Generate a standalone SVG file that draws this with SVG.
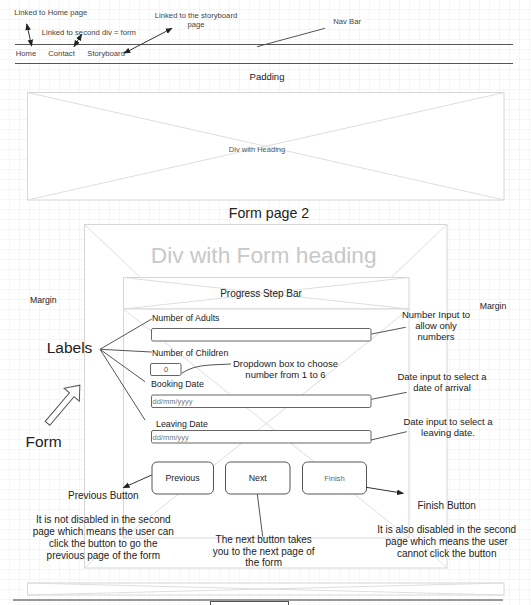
<svg xmlns="http://www.w3.org/2000/svg" width="531" height="605" viewBox="0 0 531 605">
  <defs>
    <pattern id="grid" width="10" height="10" patternUnits="userSpaceOnUse">
      <path d="M10 0V10M0 10H10" fill="none" stroke="#ededed" stroke-width="1"/>
    </pattern>
    <marker id="ah" viewBox="0 0 10 10" refX="9" refY="5" markerWidth="7" markerHeight="7" markerUnits="userSpaceOnUse" orient="auto-start-reverse">
      <path d="M0 1L10 5L0 9Z" fill="#222"/>
    </marker>
  </defs>
  <style>
    text { font-family: "Liberation Sans", Arial, sans-serif; fill: #222; }
    .note { font-size: 7.7px; fill: #444; }
    .ann { font-size: 9.5px; }
    .para { font-size: 10px; }
    .lbl { font-size: 8.8px; }
    .ph { font-size: 7.5px; fill: #777; }
    .mid { text-anchor: middle; }
    .box { fill: #fff; stroke: #d6d6d6; stroke-width: 1; }
    .x { stroke: #dedede; stroke-width: 1; fill: none; }
    .inp { fill: #fff; stroke: #666; stroke-width: 1; }
    .btn { fill: #fff; stroke: #555; stroke-width: 1; }
    .lead { stroke: #555; stroke-width: 1; fill: none; }
    .arr { stroke: #333; stroke-width: 1; fill: none; marker-end: url(#ah); }
    .arr2 { stroke: #333; stroke-width: 1; fill: none; marker-start: url(#ah); marker-end: url(#ah); }
  </style>

  <!-- canvas -->
  <rect width="531" height="605" fill="#fff"/>
  <rect width="531" height="605" fill="url(#grid)"/>

  <!-- navigation bar -->
  <g id="nav-bar">
    <line x1="15" y1="44.5" x2="513" y2="44.5" stroke="#555"/>
    <line x1="15" y1="63.5" x2="513" y2="63.5" stroke="#555"/>
    <text class="note" x="15.7" y="56">Home</text>
    <text class="note" x="48.3" y="56">Contact</text>
    <text class="note" x="87.3" y="56">Storyboard</text>
  </g>

  <g id="nav-notes">
    <text class="note" x="14.3" y="15.4">Linked to Home page</text>
    <text class="note" x="41.7" y="35.4">Linked to second div = form</text>
    <text class="note mid" x="196" y="17.7">Linked to the storyboard</text>
    <text class="note mid" x="196" y="26.7">page</text>
    <text class="note" x="333.3" y="23.7">Nav Bar</text>
  </g>

  <text id="padding-label" x="267" y="80.3" style="font-size:9.5px" class="mid">Padding</text>

  <!-- heading block -->
  <g id="heading-div">
    <rect class="box" x="27.5" y="92.5" width="476.5" height="107.5"/>
    <path class="x" d="M27.5 92.5L504 200M504 92.5L27.5 200"/>
    <text class="mid" x="257" y="151.7" style="font-size:7.5px;fill:#555">Div with Heading</text>
  </g>

  <text id="form-page-title" class="mid" x="269" y="218" style="font-size:14.2px">Form page 2</text>

  <!-- form container -->
  <g id="form-div">
    <rect class="box" x="84.5" y="224.5" width="362.5" height="343.5"/>
    <path class="x" d="M84.5 224.5L447 568M447 224.5L84.5 568"/>
    <text class="mid" x="263.7" y="263" style="font-size:22.7px;fill:#c8c8c8">Div with Form heading</text>
  </g>

  <g id="progress-bar">
    <rect class="box" x="123.5" y="277.5" width="285.5" height="31.5"/>
    <path class="x" d="M123.5 277.5L409 309M409 277.5L123.5 309"/>
    <text class="mid" x="261" y="296.5" style="font-size:10px">Progress Step Bar</text>
  </g>

  <g id="form-body">
    <rect class="box" x="123.5" y="309" width="285.5" height="229"/>
    <path class="x" d="M123.5 309L409 538M409 309L123.5 538"/>

    <text class="lbl" x="152" y="321">Number of Adults</text>
    <rect class="inp" x="151.5" y="328.5" width="219.5" height="12.5" rx="1.5"/>

    <text class="lbl" x="152" y="356">Number of Children</text>
    <rect class="inp" x="150.5" y="363.5" width="30.5" height="12" rx="1.5"/>
    <text class="mid" x="166" y="372" style="font-size:7.5px;fill:#555">0</text>

    <text class="lbl" x="151" y="387">Booking Date</text>
    <rect class="inp" x="151.5" y="395" width="219.5" height="12.5" rx="1.5"/>
    <text class="ph" x="152.5" y="404.2">dd/mm/yyyy</text>

    <text class="lbl" x="156" y="427">Leaving Date</text>
    <rect class="inp" x="151.5" y="430.5" width="219.5" height="12.5" rx="1.5"/>
    <text class="ph" x="152.5" y="439.5">dd/mm/yyy</text>
  </g>

  <g id="btn-previous">
    <rect class="btn" x="152" y="462" width="61.5" height="32" rx="5"/>
    <text class="mid" x="182.5" y="481" style="font-size:8.8px">Previous</text>
  </g>
  <g id="btn-next">
    <rect class="btn" x="225.5" y="462" width="64.5" height="32" rx="5"/>
    <text class="mid" x="257.7" y="481" style="font-size:8.8px">Next</text>
  </g>
  <g id="btn-finish">
    <rect class="btn" x="302.5" y="462" width="64" height="32" rx="5"/>
    <text class="mid" x="334.5" y="480.8" style="font-size:7.6px;fill:#666">Finish</text>
  </g>

  <!-- side notes -->
  <g id="margin-notes">
    <text class="mid" x="43.3" y="303" style="font-size:8.7px">Margin</text>
    <text class="mid" x="493" y="309" style="font-size:8.7px">Margin</text>
  </g>

  <g id="labels-note">
    <text x="46.7" y="352.5" style="font-size:15.5px">Labels</text>
  </g>

  <g id="form-note">
    <text x="25.5" y="447" style="font-size:15.5px">Form</text>
    <path transform="translate(47.5 423.3) rotate(-49.7)" d="M0 -3H37.5V-10L50 0L37.5 10V3H0Z" fill="#fff" stroke="#555" stroke-width="1"/>
  </g>

  <g id="input-notes">
    <text class="ann mid" x="436" y="317.5">Number Input to</text>
    <text class="ann mid" x="436" y="328.8">allow only</text>
    <text class="ann mid" x="436" y="339.8">numbers</text>

    <text class="ann mid" x="285.5" y="366.5">Dropdown box to choose</text>
    <text class="ann mid" x="285.5" y="377.5">number from 1 to 6</text>

    <text class="ann mid" x="442" y="380">Date input to select a</text>
    <text class="ann mid" x="442" y="390.5">date of arrival</text>

    <text class="ann mid" x="448" y="425">Date input to select a</text>
    <text class="ann mid" x="448" y="436">leaving date.</text>
  </g>

  <g id="button-notes">
    <text class="para mid" x="103.3" y="499.2">Previous Button</text>
    <text class="para mid" x="103.3" y="522.8">It is not disabled in the second</text>
    <text class="para mid" x="103.3" y="534.8">page which means the user can</text>
    <text class="para mid" x="103.3" y="547.3">click the button to go the</text>
    <text class="para mid" x="103.3" y="559.2">previous page of the form</text>

    <text class="para mid" x="263.7" y="542.8">The next button takes</text>
    <text class="para mid" x="263.7" y="554.5">you to the next page of</text>
    <text class="para mid" x="263.7" y="565.8">the form</text>

    <text class="para mid" x="446.7" y="509.2">Finish Button</text>
    <text class="para mid" x="446.7" y="533.2">It is also disabled in the second</text>
    <text class="para mid" x="446.7" y="544.8">page which means the user</text>
    <text class="para mid" x="446.7" y="556.6">cannot click the button</text>
  </g>

  <!-- footer strip -->
  <g id="footer">
    <rect class="box" x="27.5" y="583" width="476.5" height="12"/>
    <path class="x" d="M27.5 583L504 595M504 583L27.5 595"/>
    <line x1="13" y1="600" x2="503" y2="600" stroke="#999" stroke-width="2"/>
    <rect x="210.5" y="601.5" width="78" height="10" fill="#fff" stroke="#555"/>
  </g>

  <!-- connectors -->
  <g id="connectors">
    <line class="arr2" x1="26.7" y1="24" x2="31.7" y2="46"/>
    <line class="arr2" x1="74" y1="46.7" x2="81.7" y2="34.3"/>
    <line class="arr2" x1="124" y1="53.3" x2="172" y2="28.3"/>
    <line class="lead" x1="257" y1="46.7" x2="325" y2="28.3"/>

    <path class="lead" d="M100 349.3L151.7 319M100 349.3L151.7 352M100 349.3L145 381.7M100 349.3L145 420"/>

    <line class="lead" x1="371.5" y1="334" x2="405.7" y2="327.3"/>
    <path class="lead" d="M181.7 373.3Q192 366 210 365L231 364"/>
    <line class="lead" x1="371.5" y1="399.3" x2="406.7" y2="392.3"/>
    <line class="lead" x1="371" y1="440" x2="406.7" y2="431.7"/>

    <line class="arr" x1="151.7" y1="475" x2="123.3" y2="487.7"/>
    <line class="lead" x1="257.3" y1="494" x2="262.7" y2="536.7"/>
    <line class="arr" x1="366.3" y1="487.3" x2="403.3" y2="493.3"/>
  </g>
</svg>
